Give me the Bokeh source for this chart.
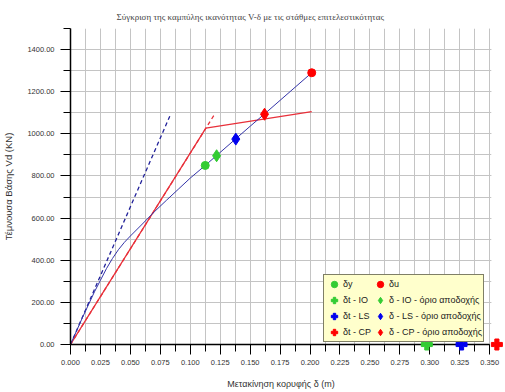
from bokeh.plotting import figure
from bokeh.models import FixedTicker, PrintfTickFormatter, Legend, LegendItem, Range1d
from bokeh.embed import file_html
from bokeh.resources import INLINE

# ---- data ----
curve_disp = [0.0, 0.01, 0.02, 0.025, 0.03, 0.035, 0.04, 0.045, 0.05, 0.06, 0.07,
              0.08, 0.09, 0.1, 0.1125, 0.125, 0.1375, 0.15, 0.1625, 0.175, 0.1875, 0.2014]
curve_V = [0, 128, 250, 305, 360, 408, 450, 485, 515, 572, 630,
           684, 737, 790, 850, 912, 974, 1036, 1097, 1159, 1221, 1290]

bilinear_disp = [0.0, 0.113, 0.2014]
bilinear_V = [0, 1027, 1105]

red_elastic_disp = [0.0, 0.12]
red_elastic_V = [0, 1090]

blue_elastic_disp = [0.0, 0.083]
blue_elastic_V = [0, 1085]

dy_point = ([0.1125], [850])
du_point = ([0.2014], [1290])
io_accept = ([0.122], [896])
ls_accept = ([0.138], [975])
cp_accept = ([0.162], [1093])
dt_io = ([0.2975], [0])
dt_ls = ([0.3265], [0])
dt_cp = ([0.356], [0])

x_major = [0.000, 0.025, 0.050, 0.075, 0.100, 0.125, 0.150, 0.175, 0.200,
           0.225, 0.250, 0.275, 0.300, 0.325, 0.350]
x_minor = [i * 0.0125 for i in range(29)]
y_major = [0, 200, 400, 600, 800, 1000, 1200, 1400]
y_minor = [i * 100 for i in range(16)]

title_text = "Σύγκριση της καμπύλης ικανότητας V-δ με τις στάθμες επιτελεστικότητας"
x_label = "Μετακίνηση κορυφής δ (m)"
y_label = "Τέμνουσα Βάσης Vd (KN)"

GREEN = "#33cc33"
BLUE = "#0000ee"
RED = "#ff0000"
SANS = "Liberation Sans"

p = figure(frame_width=421, frame_height=316,
           x_range=Range1d(0, 0.3515), y_range=Range1d(0, 1500),
           output_backend="svg", toolbar_location=None,
           min_border_left=70, min_border_right=14, min_border_top=28,
           min_border_bottom=48, background_fill_color="white",
           border_fill_color="white", outline_line_color=None)

p.title.text = title_text
p.title.text_font = "Liberation Serif"
p.title.text_font_size = "9px"
p.title.text_font_style = "normal"
p.title.align = "left"
p.title.offset = 46
p.title.standoff = 14

# axes
for ax in (p.xaxis[0], p.yaxis[0]):
    ax.axis_line_color = "black"
    ax.axis_line_width = 1.5
    ax.major_tick_line_color = "black"
    ax.minor_tick_line_color = "black"
    ax.major_tick_in = 0
    ax.minor_tick_in = 0
    ax.major_tick_out = 10
    ax.minor_tick_out = 7
    ax.major_label_text_font = SANS
    ax.major_label_text_font_size = "7.5px"
    ax.major_label_text_color = "#333333"
    ax.axis_label_text_font = SANS
    ax.axis_label_text_font_style = "normal"
    ax.axis_label_text_color = "#333333"

p.xaxis.axis_label_text_font_size = "9px"
p.yaxis.axis_label_text_font_size = "9.5px"
p.xaxis.ticker = FixedTicker(ticks=x_major, minor_ticks=x_minor)
p.yaxis.ticker = FixedTicker(ticks=y_major, minor_ticks=y_minor)
p.xaxis.formatter = PrintfTickFormatter(format="%.3f")
p.yaxis.formatter = PrintfTickFormatter(format="%.2f")
p.xaxis.bounds = (0, 0.35)
p.xaxis.major_label_standoff = 5
p.yaxis.major_label_standoff = 6
p.xaxis.axis_label = x_label
p.yaxis.axis_label = y_label
p.xaxis.axis_label_standoff = 11
p.yaxis.axis_label_standoff = 10

for g in (p.xgrid[0], p.ygrid[0]):
    g.grid_line_color = "#c4c4c4"
    g.grid_line_width = 1
    g.minor_grid_line_color = "#c4c4c4"
    g.minor_grid_line_width = 1

# lines
p.line(blue_elastic_disp, blue_elastic_V, line_color="#22229a", line_width=1.3, line_dash="4 3")
p.line(red_elastic_disp, red_elastic_V, line_color="#e8303a", line_width=1.3, line_dash="4 3")
p.line(bilinear_disp, bilinear_V, line_color="#e8303a", line_width=1.3)
p.line(curve_disp, curve_V, line_color="#3434a8", line_width=1.0)

# markers
r_dy = p.scatter(*dy_point, marker="circle", size=8, fill_color=GREEN, line_color=GREEN)
r_du = p.scatter(*du_point, marker="circle", size=8, fill_color=RED, line_color=RED)
r_io = p.scatter(*io_accept, marker="diamond", size=12, fill_color=GREEN, line_color=GREEN)
r_ls = p.scatter(*ls_accept, marker="diamond", size=12, fill_color=BLUE, line_color=BLUE)
r_cp = p.scatter(*cp_accept, marker="diamond", size=12, fill_color=RED, line_color=RED)
r_tio = p.scatter(*dt_io, marker="plus", size=11, fill_color=GREEN, line_color=GREEN, level="overlay")
r_tls = p.scatter(*dt_ls, marker="plus", size=11, fill_color=BLUE, line_color=BLUE, level="overlay")
r_tcp = p.scatter(*dt_cp, marker="plus", size=11, fill_color=RED, line_color=RED, level="overlay")

legend = Legend(items=[
    LegendItem(label="δy", renderers=[r_dy]),
    LegendItem(label="δt - IO", renderers=[r_tio]),
    LegendItem(label="δt - LS", renderers=[r_tls]),
    LegendItem(label="δt - CP", renderers=[r_tcp]),
    LegendItem(label="δu", renderers=[r_du]),
    LegendItem(label="δ - IO - όριο αποδοχής", renderers=[r_io]),
    LegendItem(label="δ - LS - όριο αποδοχής", renderers=[r_ls]),
    LegendItem(label="δ - CP - όριο αποδοχής", renderers=[r_cp]),
], ncols=2, location=(253, 2))
legend.border_line_color = "black"
legend.border_line_width = 1
legend.background_fill_color = "#ffffcc"
legend.background_fill_alpha = 1
legend.label_text_font = SANS
legend.label_text_font_size = "9px"
legend.label_text_color = "#222222"
legend.glyph_width = 18
legend.glyph_height = 16
legend.label_height = 16
legend.label_standoff = 0
legend.spacing = 0
legend.padding = 1
legend.margin = 0
p.add_layout(legend)

open("out.html", "w").write(file_html(p, INLINE))
